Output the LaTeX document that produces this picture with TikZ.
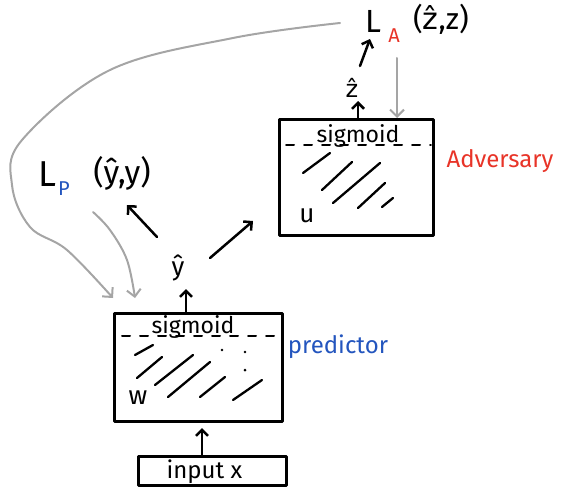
\documentclass[tikz,border=0pt]{standalone}
\usepackage{fontspec}
\setmainfont{Fira Sans}
\newfontfamily\dvfont{DejaVu Sans}
\usetikzlibrary{arrows.meta,calc}
\definecolor{advred}{RGB}{232,52,40}
\definecolor{predblue}{RGB}{35,85,190}
\definecolor{fbgray}{RGB}{165,165,165}
\begin{document}
\begin{tikzpicture}[x=1pt,y=-1pt,line cap=round,line join=round,
  boxst/.style={draw=black,line width=2.8pt,inner sep=0pt,anchor=north west},
  ink/.style={draw=black,line width=2.3pt},
  blk/.style={draw=black,line width=2.5pt,-{Straight Barb[length=6pt,width=12pt]}},
  fb/.style={draw=fbgray,line width=2pt,-{Straight Barb[length=7pt,width=14pt]}},
  big/.style={inner sep=0pt,font=\fontsize{32}{34}\selectfont},
  sig/.style={inner sep=0pt,anchor=base,font=\fontsize{23}{25}\selectfont},
  dashln/.style={draw=black,line width=2pt,dash pattern=on 8pt off 10pt}]
\useasboundingbox (0,0) rectangle (567,487);

% boxes
\node[boxst,minimum width=168pt,minimum height=108pt] (pred) at (113,312) {};
\node[boxst,minimum width=148pt,minimum height=29pt] (inp) at (137,455) {};
\node[inner sep=0pt,font=\fontsize{24}{26}\selectfont] (inptxt) at ($(inp.center)+(-8,1)$) {input x};
\node[boxst,minimum width=154pt,minimum height=116pt] (adv) at (278,118) {};

% predictor content
\node[sig] (psig) at (193,333) {sigmoid};
\draw[dashln] ($(pred.north west)+(9,24)$) -- ($(pred.north east)+(-4,24)$);
\node[big,font=\fontsize{26}{28}\selectfont] (pw) at (138,398) {w};
\draw[ink] (135,355) -- (153,345);
\draw[ink] (137,378) -- (162,357);
\draw[ink] (155,385) -- (193,355);
\draw[ink] (168,397) -- (210,362);
\draw[ink] (200,397) -- (225,377);
\draw[ink] (233,400) -- (262,380);
\fill (222,350) circle (1.3pt) (245,352) circle (1.3pt) (245,370) circle (1.5pt);

% adversary content
\node[sig] (asig) at (358,142) {sigmoid};
\draw[dashln] ($(adv.north west)+(8,27)$) -- ($(adv.north east)+(-4,27)$);
\node[big,font=\fontsize{26}{28}\selectfont] (au) at (307,216) {u};
\draw[ink] (303,173) -- (330,153);
\draw[ink] (322,190) -- (352,162);
\draw[ink] (333,203) -- (380,163);
\draw[ink] (358,208) -- (385,183);
\draw[ink] (382,207) -- (393,198);

% side labels
\node[inner sep=0pt,anchor=base,text=predblue,font=\fontsize{24}{26}\selectfont] (plab) at (338,353) {predictor};
\node[inner sep=0pt,anchor=base,text=advred,font=\fontsize{24}{26}\selectfont] (alab) at (500,167) {Adversary};

% predictor outputs
\node[big,font=\fontsize{26}{28}\selectfont] (yhat) at (178,268) {ŷ};
\draw[blk] (pred.north -| 186,0) -- (186,289);
\draw[blk] (inp.north -| 202,0) -- (202,428);

% L_P
\node[big,anchor=base,font=\fontsize{36}{38}\selectfont] (LP) at (47,186) {L};
\node[inner sep=0pt,anchor=base,text=predblue,font=\fontsize{20}{22}\selectfont] (LPsub) at (64,195) {P};
\node[big,anchor=base] (LPargs) at (122,183) {(ŷ,y)};
\coordinate (ya) at (157,237);
\coordinate (yb) at (127,205);
\draw[blk] (ya) -- (yb);
\coordinate (yc) at (210,258);
\coordinate (yd) at (253,221);
\draw[blk] (yc) -- (yd);

% adversary outputs
\node[big,font=\dvfont\fontsize{24}{26}\selectfont] (zhat) at (352,88) {ẑ};
\draw[blk] (adv.north -| 358,0) -- (358,101);
\node[big,anchor=base] (LA) at (373,33) {L};
\node[inner sep=0pt,anchor=base,text=advred,font=\fontsize{20}{22}\selectfont] (LAsub) at (394,43) {A};
\node[big,anchor=base,font=\fontsize{30}{32}\selectfont] (LAargs) at (441,30) {(\mbox{\dvfont ẑ},z)};
\coordinate (za) at (360,66);
\coordinate (zb) at (370,39);
\draw[blk] (za) -- (zb);

% gray feedback arrows
\coordinate (ga) at (397,58);
\draw[fb] (ga) -- (adv.north -| 397,0);
\coordinate (gs) at (340,23);
\coordinate (ge) at (113,298);
\draw[fb] plot[smooth,tension=0.6] coordinates {(gs) (233,38) (110,70) (22,140) (12,185) (30,227) (67,250) (ge)};
\coordinate (gs2) at (93,212);
\coordinate (ge2) at (135,298);
\draw[fb] plot[smooth,tension=0.6] coordinates {(gs2) (110,230) (127,260) (ge2)};
\end{tikzpicture}
\end{document}
